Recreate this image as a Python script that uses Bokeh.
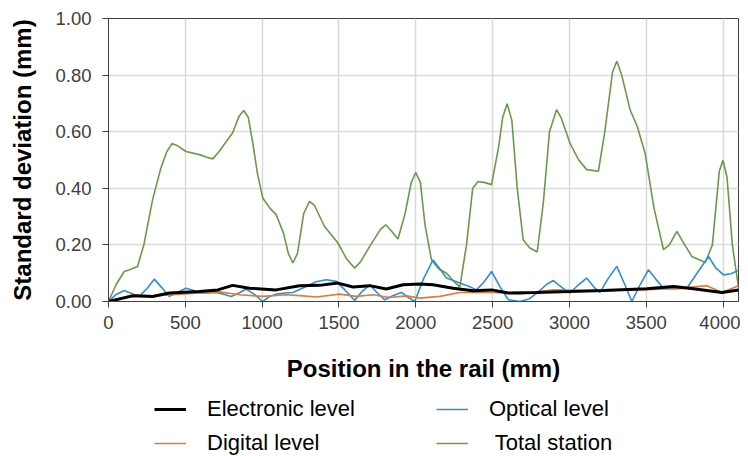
from bokeh.plotting import figure
from bokeh.layouts import column
from bokeh.models import Legend, LegendItem, Range1d, FixedTicker, NumeralTickFormatter
from bokeh.embed import file_html
from bokeh.resources import INLINE

# Electronic level
el_x = [0, 157, 287, 396, 591, 711, 808, 917, 1091, 1243, 1374, 1493, 1591, 1700, 1808, 1917, 2025, 2112,
        2243, 2373, 2493, 2602, 2786, 3003, 3220, 3503, 3677, 3807, 3992, 4100]
el_y = [0.0, 0.020, 0.018, 0.030, 0.035, 0.041, 0.057, 0.047, 0.041, 0.056, 0.057, 0.065, 0.051, 0.056, 0.044,
        0.059, 0.062, 0.059, 0.047, 0.038, 0.041, 0.030, 0.032, 0.035, 0.039, 0.045, 0.053, 0.045, 0.032, 0.041]

# Digital level
dl_x = [0, 157, 287, 417, 591, 711, 852, 1004, 1156, 1265, 1352, 1504, 1613, 1721, 1830, 1939, 2025, 2156,
        2286, 2504, 2677, 2895, 3156, 3438, 3677, 3895, 3992, 4100]
dl_y = [0.0, 0.024, 0.020, 0.024, 0.030, 0.035, 0.024, 0.018, 0.024, 0.020, 0.016, 0.026, 0.018, 0.024, 0.014,
        0.020, 0.012, 0.018, 0.032, 0.032, 0.027, 0.041, 0.038, 0.041, 0.045, 0.056, 0.032, 0.056]

# Optical level
ol_x = [0, 50, 102, 150, 200, 250, 298, 345, 396, 450, 504, 550, 591, 650, 700, 750, 798, 850, 896, 950, 1004,
        1050, 1091, 1150, 1200, 1287, 1350, 1417, 1482, 1540, 1602, 1650, 1700, 1750, 1798, 1850, 1906, 1950,
        1993, 2050, 2112, 2150, 2200, 2286, 2340, 2395, 2445, 2493, 2550, 2602, 2677, 2740, 2800, 2850, 2895,
        2950, 3003, 3060, 3112, 3160, 3199, 3250, 3308, 3360, 3406, 3460, 3514, 3560, 3612, 3690, 3764, 3830,
        3905, 3950, 4003, 4050, 4100]
ol_y = [0.0, 0.025, 0.039, 0.028, 0.018, 0.045, 0.079, 0.050, 0.018, 0.033, 0.047, 0.040, 0.030, 0.030, 0.032,
        0.026, 0.018, 0.030, 0.044, 0.025, 0.0, 0.018, 0.026, 0.030, 0.032, 0.053, 0.070, 0.077, 0.071, 0.040,
        0.004, 0.035, 0.059, 0.030, 0.006, 0.020, 0.032, 0.015, 0.0, 0.080, 0.147, 0.120, 0.083, 0.065, 0.055,
        0.041, 0.070, 0.106, 0.050, 0.006, 0.0, 0.010, 0.035, 0.060, 0.074, 0.050, 0.030, 0.060, 0.083, 0.050,
        0.032, 0.080, 0.124, 0.060, 0.0, 0.060, 0.112, 0.080, 0.047, 0.045, 0.047, 0.100, 0.159, 0.120, 0.094,
        0.098, 0.110]

# Total station
ts_x = [0, 50, 102, 150, 189, 230, 287, 340, 380, 413, 450, 504, 591, 640, 678, 720, 808, 850, 880, 910, 939,
        970, 1004, 1050, 1091, 1140, 1170, 1200, 1230, 1270, 1308, 1340, 1406, 1493, 1550, 1602, 1640, 1700,
        1770, 1804, 1840, 1884, 1930, 1970, 1999, 2030, 2060, 2102, 2150, 2200, 2250, 2286, 2330, 2370, 2406,
        2450, 2493, 2540, 2565, 2594, 2625, 2660, 2699, 2740, 2790, 2830, 2870, 2916, 2945, 3003, 3060, 3112,
        3188, 3230, 3280, 3308, 3340, 3394, 3440, 3492, 3550, 3612, 3650, 3699, 3750, 3797, 3884, 3930, 3975,
        3999, 4025, 4060, 4100]
ts_y = [0.0, 0.060, 0.106, 0.115, 0.124, 0.200, 0.360, 0.470, 0.530, 0.558, 0.550, 0.530, 0.519, 0.510, 0.504,
        0.530, 0.596, 0.655, 0.675, 0.650, 0.560, 0.450, 0.366, 0.330, 0.307, 0.240, 0.170, 0.136, 0.170, 0.310,
        0.354, 0.340, 0.265, 0.207, 0.150, 0.118, 0.140, 0.195, 0.255, 0.271, 0.250, 0.221, 0.310, 0.420, 0.456,
        0.420, 0.270, 0.147, 0.115, 0.100, 0.070, 0.051, 0.200, 0.400, 0.424, 0.420, 0.413, 0.550, 0.650, 0.699,
        0.640, 0.400, 0.218, 0.190, 0.175, 0.350, 0.600, 0.678, 0.650, 0.560, 0.500, 0.466, 0.460, 0.600, 0.810,
        0.849, 0.800, 0.678, 0.620, 0.525, 0.330, 0.183, 0.200, 0.248, 0.200, 0.159, 0.138, 0.200, 0.460, 0.499,
        0.440, 0.200, 0.050]

x_ticks = [0, 500, 1000, 1500, 2000, 2500, 3000, 3500, 4000]
y_ticks = [0.0, 0.2, 0.4, 0.6, 0.8, 1.0]
series_names = ["Electronic level", "Optical level", "Digital level", " Total station"]

FONT = "Liberation Sans"
c_el, c_ol, c_dl, c_ts = "#000000", "#2E8FD6", "#E07B39", "#6A9A48"
w_el, w_other = 3, 1.6

p = figure(width=740, height=392, output_backend="svg", toolbar_location=None,
           x_range=Range1d(0, 4100), y_range=Range1d(0, 1.0),
           min_border_left=108, min_border_right=2, min_border_top=18, min_border_bottom=91)
p.background_fill_color = "white"
p.border_fill_color = "white"
p.outline_line_color = "#404040"
p.outline_line_width = 1

p.line(ts_x, ts_y, line_color=c_ts, line_width=w_other)
p.line(ol_x, ol_y, line_color=c_ol, line_width=w_other)
p.line(dl_x, dl_y, line_color=c_dl, line_width=w_other)
p.line(el_x, el_y, line_color=c_el, line_width=w_el)

for ax in (p.xaxis[0], p.yaxis[0]):
    ax.axis_line_color = "#404040"
    ax.major_tick_line_color = "#404040"
    ax.minor_tick_line_color = None
    ax.major_tick_in = 0
    ax.major_tick_out = 6
    ax.major_label_text_font = FONT
    ax.major_label_text_font_size = "18.5px"
    ax.major_label_text_color = "#404040"
    ax.axis_label_text_font = FONT
    ax.axis_label_text_font_style = "bold"
    ax.axis_label_text_color = "#000000"
    ax.axis_label_text_font_size = "24px"

p.xaxis.ticker = FixedTicker(ticks=x_ticks)
p.yaxis.ticker = FixedTicker(ticks=y_ticks)
p.yaxis.formatter = NumeralTickFormatter(format="0.00")
p.xaxis.axis_label = "Position in the rail (mm)"
p.yaxis.axis_label = "Standard deviation (mm)"
p.xaxis.major_label_standoff = 8
p.yaxis.major_label_standoff = 11
p.xaxis.axis_label_standoff = 23
p.yaxis.axis_label_standoff = 16

p.xgrid.ticker = FixedTicker(ticks=x_ticks)
p.ygrid.ticker = FixedTicker(ticks=y_ticks)
p.xgrid.grid_line_color = "#D9D9D9"
p.ygrid.grid_line_color = "#D9D9D9"
p.xgrid.grid_line_width = 1.5
p.ygrid.grid_line_width = 1.5

# legend panel below the chart (its ranges keep the series out of view; only legend swatches show)
q = figure(width=740, height=64, output_backend="svg", toolbar_location=None,
           x_range=Range1d(-20, -10), y_range=Range1d(-20, -10), x_axis_type=None, y_axis_type=None,
           min_border_left=0, min_border_right=0, min_border_top=0, min_border_bottom=0)
q.outline_line_color = None
q.xgrid.grid_line_color = None
q.ygrid.grid_line_color = None
q.background_fill_color = "white"
q.border_fill_color = "white"
g_el = q.line(el_x, el_y, line_color=c_el, line_width=w_el)
g_ol = q.line(ol_x, ol_y, line_color=c_ol, line_width=w_other)
g_dl = q.line(dl_x, dl_y, line_color=c_dl, line_width=w_other)
g_ts = q.line(ts_x, ts_y, line_color=c_ts, line_width=w_other)


def make_legend(items, loc):
    lg = Legend(items=[LegendItem(label=t, renderers=[r]) for t, r in items], location=loc)
    lg.label_text_font = FONT
    lg.label_text_font_size = "22px"
    lg.label_text_color = "#000000"
    lg.glyph_width = 32
    lg.glyph_height = 20
    lg.label_height = 20
    lg.label_standoff = 21
    lg.spacing = 8
    lg.border_line_color = None
    lg.background_fill_alpha = 0
    lg.padding = 0
    lg.margin = 0
    return lg


q.add_layout(make_legend([(series_names[0], g_el), (series_names[2], g_dl)], (46, 0)), "center")
q.add_layout(make_legend([(series_names[1], g_ol), (series_names[3], g_ts)], (328, 0)), "center")

open("out.html", "w").write(file_html(column(p, q, spacing=0), INLINE))
